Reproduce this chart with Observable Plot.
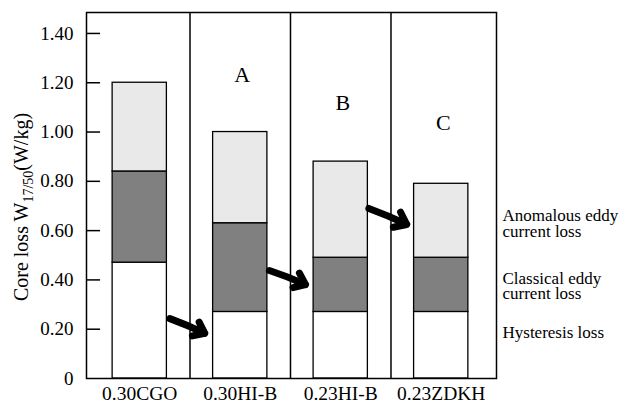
<!DOCTYPE html>
<html><head><meta charset="utf-8">
<script src="https://cdn.jsdelivr.net/npm/d3@7"></script>
<script src="https://cdn.jsdelivr.net/npm/@observablehq/plot@0.6"></script>
<style>body{margin:0;background:#fff} svg{display:block}</style>
</head><body><div id="chart"></div>
<script>
// ---- data ----
const grades = ["0.30CGO", "0.30HI-B", "0.23HI-B", "0.23ZDKH"];
const hysteresis = [0.47, 0.27, 0.27, 0.27];
const classical = [0.37, 0.36, 0.22, 0.22];
const anomalous = [0.36, 0.37, 0.39, 0.30];
const components = ["Hysteresis loss", "Classical eddy current loss", "Anomalous eddy current loss"];
const yTicks = [0, 0.2, 0.4, 0.6, 0.8, 1.0, 1.2, 1.4];
const panelLetters = ["A", "B", "C"];
const panelLetterY = [1.23, 1.12, 1.035];
const arrowFrom = [[0.80, 0.243], [1.79, 0.438], [2.78, 0.69]];
const arrowTo = [[1.147, 0.183], [2.15, 0.381], [3.157, 0.625]];
const legendLabels = ["Anomalous eddy\ncurrent loss", "Classical eddy\ncurrent loss", "Hysteresis loss"];
const legendY = [0.627, 0.373, 0.184];

// ---- build ----
const font = "'Liberation Serif', 'Times New Roman', serif";
const xMin = -0.03, xMax = 4.05;
const segments = [];
grades.forEach((g, i) => {
  const vals = [hysteresis[i], classical[i], anomalous[i]];
  let y0 = 0;
  vals.forEach((v, k) => {
    segments.push({grade: g, i, comp: components[k], y1: y0, y2: y0 + v});
    y0 += v;
  });
});

const chart = Plot.plot({
  width: 630,
  height: 404,
  marginLeft: 86,
  marginRight: 134,
  marginTop: 12,
  marginBottom: 26,
  style: {fontFamily: font, color: "black", background: "white"},
  x: {domain: [xMin, xMax], axis: null},
  y: {domain: [0, 1.485], axis: null},
  color: {domain: components, range: ["#ffffff", "#808080", "#e9e9e9"]},
  marks: [
    Plot.rect(segments, {x1: d => d.i + 0.23, x2: d => d.i + 0.77, y1: "y1", y2: "y2", fill: "comp", stroke: "black", strokeWidth: 1.3}),
    Plot.ruleX([1, 2, 3], {stroke: "black", strokeWidth: 1.5}),
    Plot.ruleY(yTicks.filter(d => d > 0), {y: d => d, x1: xMin, x2: xMin + 0.14, stroke: "black", strokeWidth: 1.5}),
    Plot.frame({stroke: "black", strokeWidth: 1.5}),
    Plot.axisY(yTicks, {tickSize: 0, tickPadding: 13, fontSize: 19, tickFormat: d => d === 0 ? "0" : d.toFixed(2), label: null}),
    Plot.axisX(grades.map((g, i) => i + 0.5), {tickSize: 0, tickPadding: 8, fontSize: 19.5, tickFormat: d => grades[Math.floor(d)], label: null}),
    Plot.text(panelLetters, {x: (d, i) => i + 1.5, y: (d, i) => panelLetterY[i], text: d => d, fontSize: 22, dx: 2}),
    Plot.arrow(arrowFrom, {x1: (d) => d[0], y1: d => d[1], x2: (d, i) => arrowTo[i][0], y2: (d, i) => arrowTo[i][1], stroke: "black", strokeWidth: 7, headLength: 14, headAngle: 75, bend: 3}),
    Plot.text(legendLabels, {x: xMax, y: (d, i) => legendY[i], text: d => d, dx: 6, textAnchor: "start", lineAnchor: "middle", lineHeight: 0.9, fontSize: 17})
  ]
});

// y-axis title with subscript
const svg = d3.select(chart);
const t = svg.append("text")
  .attr("transform", "translate(28,207) rotate(-90)")
  .attr("text-anchor", "middle")
  .attr("font-family", font)
  .attr("font-size", 20)
  .attr("fill", "black");
t.append("tspan").text("Core loss W");
t.append("tspan").attr("dy", 5).attr("font-size", 14).text("17/50");
t.append("tspan").attr("dy", -5).text("(W/kg)");

document.getElementById("chart").appendChild(chart);
</script>
</body></html>
